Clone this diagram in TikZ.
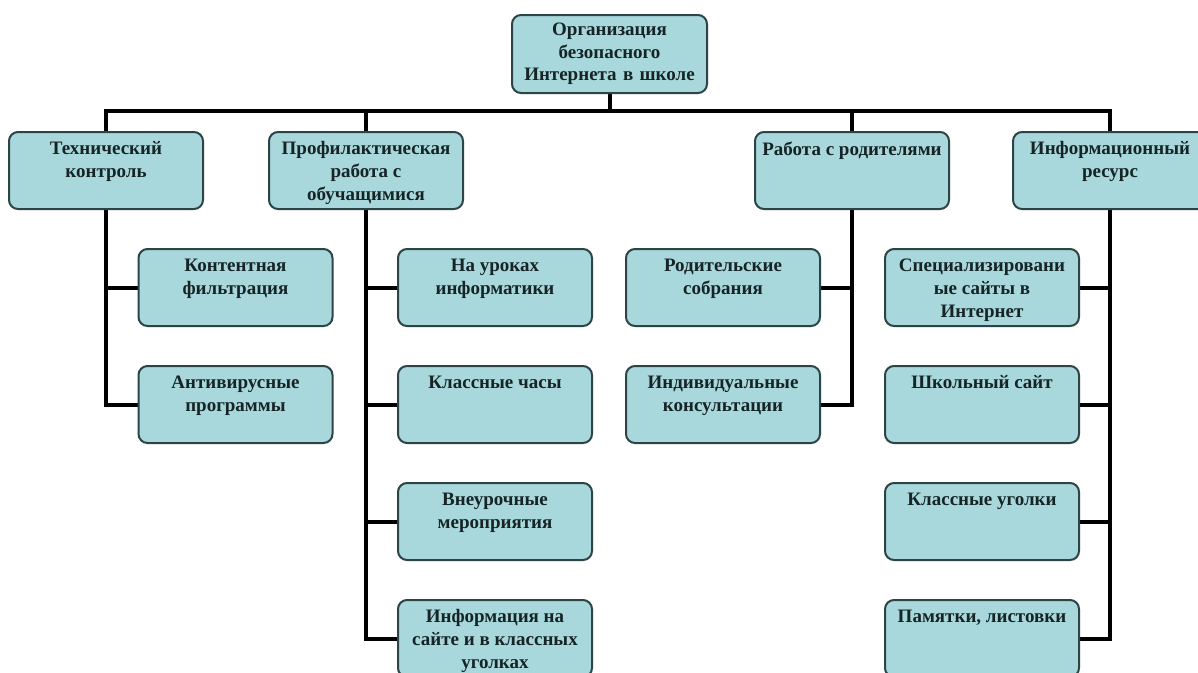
\documentclass[tikz,border=0pt]{standalone}
\usepackage{fontspec}
\setmainfont{Liberation Serif}
\usetikzlibrary{backgrounds}
\definecolor{boxfill}{RGB}{168,216,220}
\definecolor{boxline}{RGB}{45,68,70}
\definecolor{boxtext}{RGB}{22,36,38}
\newcommand{\cell}[1]{\parbox[t][58pt][t]{184pt}{\centering\rule{0pt}{13pt}#1}}

\begin{document}
\begin{tikzpicture}[x=1pt,y=-1pt,
	box/.style={draw=boxline,fill=boxfill,line width=2pt,rounded corners=9pt,
		anchor=north,inner xsep=5pt,inner ysep=9.5pt,text=boxtext,
		font=\fontsize{19}{23}\selectfont\bfseries},
	link/.style={line width=4pt}]
	\useasboundingbox (0,0) rectangle (1198,672);
	\node[box,minimum width=195pt,minimum height=78pt,inner ysep=4pt,text width=184pt,
		align=center,font=\fontsize{19}{22.5}\selectfont\bfseries] (root) at (609.5,14)
		{Организация\\ безопасного\\ Интернета в школе};
	\node[box] (tech) at (106,131) {\cell{Технический\\ контроль}};
	\node[box] (prof) at (366,131) {\cell{Профилактическая\\ работа с\\ обучащимися}};
	\node[box] (par) at (852,131) {\cell{Работа с родителями}};
	\node[box] (info) at (1110,131) {\cell{Информационный\\ ресурс}};
	\node[box] (kont) at (235.5,248) {\cell{Контентная\\ фильтрация}};
	\node[box] (anti) at (235.5,365) {\cell{Антивирусные\\ программы}};
	\node[box] (urok) at (495,248) {\cell{На уроках\\ информатики}};
	\node[box] (chas) at (495,365) {\cell{Классные часы}};
	\node[box] (vneur) at (495,482) {\cell{Внеурочные\\ мероприятия}};
	\node[box] (sait) at (495,599) {\cell{Информация на\\ сайте и в классных\\ уголках}};
	\node[box] (sobr) at (723,248) {\cell{Родительские\\ собрания}};
	\node[box] (kons) at (723,365) {\cell{Индивидуальные\\ консультации}};
	\node[box] (spec) at (982,248) {\cell{Специализировани\\ ые сайты в\\ Интернет}};
	\node[box] (shk) at (982,365) {\cell{Школьный сайт}};
	\node[box] (ugol) at (982,482) {\cell{Классные уголки}};
	\node[box] (pam) at (982,599) {\cell{Памятки, листовки}};
	\begin{scope}[on background layer]
		\fill[white] (0,0) rectangle (1198,672);
		\coordinate (bus) at (609.5,111);
		\draw[link] (root.south) -- (bus);
		\draw[link] (tech.north) |- (bus) -| (info.north);
		\draw[link] (prof.north) -- (prof.north |- bus);
		\draw[link] (par.north) -- (par.north |- bus);
		\draw[link] (tech.south) |- (anti.west);
		\draw[link] (kont.west) -- (kont.west -| tech.south);
		\draw[link] (prof.south) |- (sait.west);
		\foreach \n in {urok,chas,vneur}
			\draw[link] (\n.west) -- (\n.west -| prof.south);
		\draw[link] (par.south) |- (kons.east);
		\draw[link] (sobr.east) -- (sobr.east -| par.south);
		\draw[link] (info.south) |- (pam.east);
		\foreach \n in {spec,shk,ugol}
			\draw[link] (\n.east) -- (\n.east -| info.south);
	\end{scope}
\end{tikzpicture}
\end{document}
